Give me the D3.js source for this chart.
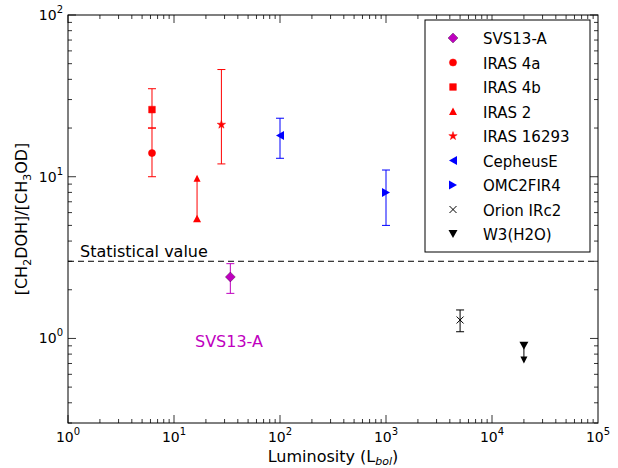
<!DOCTYPE html>
<html><head><meta charset="utf-8">
<script src="https://cdn.jsdelivr.net/npm/d3@7"></script>
<style>body{margin:0;background:#fff}text{font-family:"DejaVu Sans",sans-serif}</style>
</head><body><svg id="c" width="618" height="468"></svg>
<script>
const names = ['SVS13-A', 'IRAS 4a', 'IRAS 4b', 'IRAS 2', 'IRAS 16293', 'CepheusE', 'OMC2FIR4', 'Orion IRc2', 'W3(H2O)'];
const lum = [34, 6.2, 6.2, 16.5, 28, 100, 1000, 5000, 20000];
const ratio = [2.4, 14, 26, 5.5, 21, 18, 8, 1.3, 0.9];
const errLo = [1.9, 10, 20, 5.5, 12, 13, 5, 1.1, 0.72];
const errHi = [2.9, 20, 35, 10, 46, 23, 11, 1.5, 0.9];
const colors = ['#bf00bf', 'red', 'red', 'red', 'red', 'blue', 'blue', 'black', 'black'];
const shapes = ['diamond', 'circle', 'square', 'triangle', 'star', 'left', 'right', 'x', 'down'];
const statValue = 3;

const svg = d3.select('#c');
const m = { l: 68, r: 598, t: 15, b: 423 };
const x = d3.scaleLog().domain([1, 1e5]).range([m.l, m.r]);
const y = d3.scaleLog().domain([0.3, 100]).range([m.b, m.t]);

function marker(g, s, c) {
  const sym = {
    circle: d3.symbol(d3.symbolCircle, 40),
    square: d3.symbol(d3.symbolSquare, 45),
    star: d3.symbol(d3.symbolStar, 22)
  };
  if (sym[s]) g.append('path').attr('d', sym[s]()).attr('fill', c).attr('stroke', c).attr('stroke-width', 0.5);
  else if (s === 'diamond') g.append('path').attr('d', 'M0,-5L5,0L0,5L-5,0Z').attr('fill', c).attr('stroke', 'black').attr('stroke-width', 0.3);
  else if (s === 'triangle') g.append('path').attr('d', 'M0,-4L4,3.5L-4,3.5Z').attr('fill', c);
  else if (s === 'left') g.append('path').attr('d', 'M-4,0L4,-4.5L4,4.5Z').attr('fill', c);
  else if (s === 'right') g.append('path').attr('d', 'M4,0L-4,-4.5L-4,4.5Z').attr('fill', c);
  else if (s === 'down') g.append('path').attr('d', 'M-4.5,-4L4.5,-4L0,4Z').attr('fill', c);
  else if (s === 'x') g.append('path').attr('d', 'M-3.5,-3.5L3.5,3.5M-3.5,3.5L3.5,-3.5').attr('stroke', c).attr('stroke-width', 1);
}

svg.append('rect').attr('x', m.l).attr('y', m.t).attr('width', m.r - m.l).attr('height', m.b - m.t)
  .attr('fill', 'none').attr('stroke', 'black').attr('stroke-width', 1);

const tk = svg.append('g').attr('stroke', 'black').attr('stroke-width', 0.8);
for (let e = 0; e < 5; e++) for (let k = 1; k < 10; k++) {
  const v = k * 10 ** e, px = x(v), len = k === 1 ? 8 : 4;
  tk.append('line').attr('x1', px).attr('x2', px).attr('y1', m.b).attr('y2', m.b - len);
  tk.append('line').attr('x1', px).attr('x2', px).attr('y1', m.t).attr('y2', m.t + len);
}
[0.3,0.4,0.5,0.6,0.7,0.8,0.9,1,2,3,4,5,6,7,8,9,10,20,30,40,50,60,70,80,90,100].forEach(v => {
  const py = y(v), major = [1, 10, 100].includes(v), len = major ? 8 : 4;
  tk.append('line').attr('y1', py).attr('y2', py).attr('x1', m.l).attr('x2', m.l + len);
  tk.append('line').attr('y1', py).attr('y2', py).attr('x1', m.r).attr('x2', m.r - len);
});
for (let e = 0; e <= 5; e++) {
  const t = svg.append('text').attr('x', x(10 ** e)).attr('y', m.b + 19).attr('text-anchor', 'middle').attr('font-size', 14);
  t.append('tspan').text('10');
  t.append('tspan').attr('dy', -7).attr('font-size', 10).text(e);
}
[0, 1, 2].forEach(e => {
  const t = svg.append('text').attr('x', m.l - 5).attr('y', y(10 ** e) + 5).attr('text-anchor', 'end').attr('font-size', 14);
  t.append('tspan').text('10');
  t.append('tspan').attr('dy', -7).attr('font-size', 10).text(e);
});

const xl = svg.append('text').attr('x', (m.l + m.r) / 2).attr('y', 462).attr('text-anchor', 'middle').attr('font-size', 16);
xl.append('tspan').text('Luminosity (L');
xl.append('tspan').attr('font-size', 11).attr('dy', 3).attr('font-style', 'italic').text('bol');
xl.append('tspan').attr('dy', -3).text(')');
const yl = svg.append('text').attr('transform', `translate(27,${(m.t + m.b) / 2}) rotate(-90)`).attr('text-anchor', 'middle').attr('font-size', 16);
yl.append('tspan').text('[CH');
yl.append('tspan').attr('font-size', 11).attr('dy', 4).text('2');
yl.append('tspan').attr('dy', -4).text('DOH]/[CH');
yl.append('tspan').attr('font-size', 11).attr('dy', 4).text('3');
yl.append('tspan').attr('dy', -4).text('OD]');

svg.append('line').attr('x1', m.l).attr('x2', m.r).attr('y1', y(statValue)).attr('y2', y(statValue))
  .attr('stroke', 'black').attr('stroke-dasharray', '6,4');
svg.append('text').attr('x', 80).attr('y', y(statValue) - 4).attr('font-size', 16).text('Statistical value');
svg.append('text').attr('x', 195).attr('y', 347).attr('font-size', 16).attr('fill', '#bf00bf').text('SVS13-A');

names.forEach((n, i) => {
  const px = x(lum[i]), c = colors[i];
  const g = svg.append('g').attr('stroke', c).attr('stroke-width', 1);
  g.append('line').attr('x1', px).attr('x2', px).attr('y1', y(errLo[i])).attr('y2', y(errHi[i]));
  if (shapes[i] === 'triangle') {
    svg.append('path').attr('transform', `translate(${px},${y(errHi[i]) + 2})`).attr('d', 'M-3.5,3L3.5,3L0,-4Z').attr('fill', c);
  } else if (shapes[i] === 'down') {
    svg.append('path').attr('transform', `translate(${px},${y(errLo[i]) - 2})`).attr('d', 'M-3.5,-3L3.5,-3L0,4Z').attr('fill', c);
  } else {
    [errLo[i], errHi[i]].forEach(v => g.append('line').attr('x1', px - 4).attr('x2', px + 4).attr('y1', y(v)).attr('y2', y(v)));
  }
  marker(svg.append('g').attr('transform', `translate(${px},${y(ratio[i])})`), shapes[i], c);
});

const lg = svg.append('g').attr('transform', 'translate(425,20)');
lg.append('rect').attr('width', 165).attr('height', 232).attr('fill', 'white').attr('stroke', 'black');
names.forEach((n, i) => {
  const row = lg.append('g').attr('transform', `translate(28,${18 + i * 24.5})`);
  marker(row.append('g'), shapes[i], colors[i]);
  row.append('text').attr('x', 30).attr('y', 6).attr('font-size', 15).text(n);
});
</script></body></html>
